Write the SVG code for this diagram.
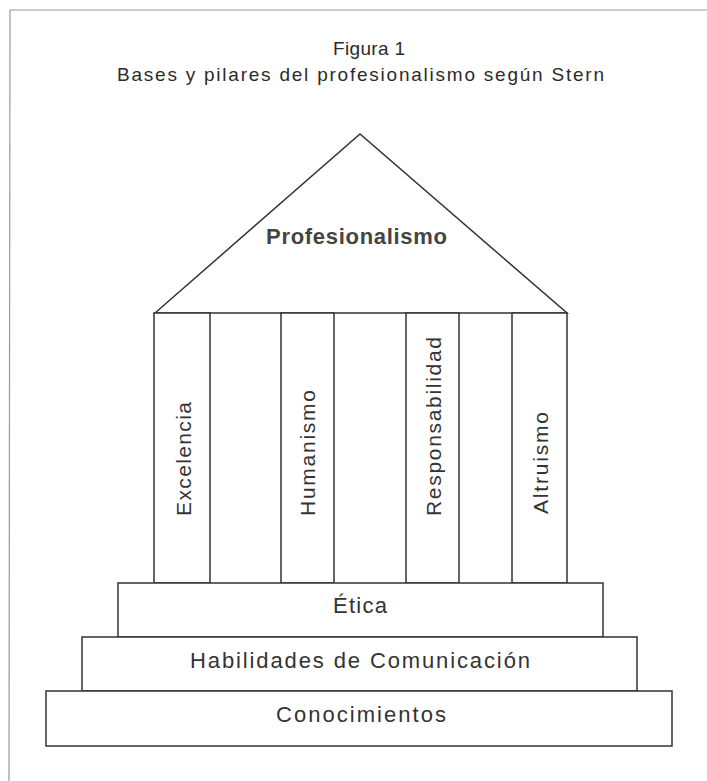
<svg xmlns="http://www.w3.org/2000/svg" width="707" height="781" viewBox="0 0 707 781">
<style>
.frame{fill:none;stroke:#9a9a9a;stroke-width:1.2}
.shape{fill:#fff;stroke:#333;stroke-width:1.5}
.t{font-family:"Liberation Sans",Arial,sans-serif;fill:#2b2b2b}
.title{font-size:19px}
.roof{font-size:22px;font-weight:bold;fill:#444}
.pil{font-size:21px;fill:#333}
.base{font-size:22px;fill:#333}
</style>
<rect x="0" y="0" width="707" height="781" fill="#fff"/>
<g id="frame">
<line class="frame" x1="10" y1="10" x2="707" y2="10"/>
<line class="frame" x1="10" y1="10" x2="9" y2="781"/>
</g>
<g id="title">
<text class="t title" x="369" y="55" text-anchor="middle" textLength="72" lengthAdjust="spacing">Figura 1</text>
<text class="t title" x="117" y="81" textLength="487" lengthAdjust="spacing">Bases y pilares del profesionalismo según Stern</text>
</g>
<g id="roof">
<polygon class="shape" points="155,313 360,134 567,313"/>
<text class="t roof" x="266" y="244" textLength="181" lengthAdjust="spacing">Profesionalismo</text>
</g>
<g id="pillar-excelencia">
<rect class="shape" x="154" y="313" width="56" height="270"/>
<text class="t pil" transform="translate(191,516) rotate(-90)" textLength="114" lengthAdjust="spacing">Excelencia</text>
</g>
<g id="pillar-humanismo">
<rect class="shape" x="281" y="313" width="53" height="270"/>
<text class="t pil" transform="translate(315,516) rotate(-90)" textLength="126" lengthAdjust="spacing">Humanismo</text>
</g>
<g id="pillar-responsabilidad">
<rect class="shape" x="406" y="313" width="53" height="270"/>
<text class="t pil" transform="translate(441,516) rotate(-90)" textLength="179" lengthAdjust="spacing">Responsabilidad</text>
</g>
<g id="pillar-altruismo">
<rect class="shape" x="512" y="313" width="55" height="270"/>
<text class="t pil" transform="translate(548,514) rotate(-90)" textLength="102" lengthAdjust="spacing">Altruismo</text>
</g>
<g id="base-etica">
<rect class="shape" x="118" y="583" width="485" height="54"/>
<text class="t base" x="333" y="613" textLength="54" lengthAdjust="spacing">Ética</text>
</g>
<g id="base-habilidades">
<rect class="shape" x="82" y="637" width="555" height="54"/>
<text class="t base" x="190" y="668" textLength="340" lengthAdjust="spacing">Habilidades de Comunicación</text>
</g>
<g id="base-conocimientos">
<rect class="shape" x="46" y="691" width="626" height="55"/>
<text class="t base" x="276" y="722" textLength="170" lengthAdjust="spacing">Conocimientos</text>
</g>
<g id="connectors"></g>
</svg>
